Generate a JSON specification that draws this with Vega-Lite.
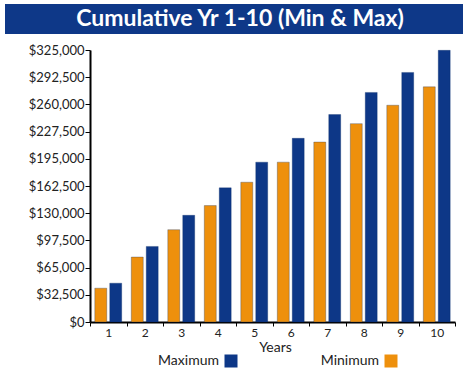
{
  "$schema": "https://vega.github.io/schema/vega-lite/v6.json",
  "background": "white",
  "padding": {"left": 5, "top": 4, "right": 5, "bottom": 5},
  "spacing": 10,
  "config": {
    "view": {"stroke": null},
    "font": "Lato",
    "axis": {"labelFont": "Lato", "titleFont": "Lato", "labelColor": "#222", "titleColor": "#222", "domainColor": "#000", "tickColor": "#000"},
    "legend": {"labelFont": "Lato"}
  },
  "vconcat": [
    {
      "width": 458,
      "height": 30,
      "view": {"fill": "#0E3888", "stroke": null},
      "data": {"values": [{"t": "Cumulative Yr 1-10 (Min & Max)"}]},
      "mark": {"type": "text", "color": "white", "fontSize": 23, "fontWeight": "bold", "font": "Lato", "dx": 6},
      "encoding": {"text": {"field": "t"}}
    },
    {
      "width": 458,
      "height": 272,
      "data": {"values": [
        {"year": 1, "type": "Minimum", "value": 40400}, {"year": 1, "type": "Maximum", "value": 46400},
        {"year": 2, "type": "Minimum", "value": 77600}, {"year": 2, "type": "Maximum", "value": 90300},
        {"year": 3, "type": "Minimum", "value": 110300}, {"year": 3, "type": "Maximum", "value": 127500},
        {"year": 4, "type": "Minimum", "value": 139100}, {"year": 4, "type": "Maximum", "value": 160300},
        {"year": 5, "type": "Minimum", "value": 167000}, {"year": 5, "type": "Maximum", "value": 191000},
        {"year": 6, "type": "Minimum", "value": 191000}, {"year": 6, "type": "Maximum", "value": 219500},
        {"year": 7, "type": "Minimum", "value": 215000}, {"year": 7, "type": "Maximum", "value": 247900},
        {"year": 8, "type": "Minimum", "value": 237000}, {"year": 8, "type": "Maximum", "value": 274300},
        {"year": 9, "type": "Minimum", "value": 259000}, {"year": 9, "type": "Maximum", "value": 298200},
        {"year": 10, "type": "Minimum", "value": 281000}, {"year": 10, "type": "Maximum", "value": 324600}
      ]},
      "mark": {"type": "bar", "stroke": "#0A2A66", "strokeWidth": 0.5, "strokeOpacity": 0.6},
      "encoding": {
        "x": {
          "field": "year", "type": "ordinal",
          "scale": {"paddingInner": 0, "paddingOuter": 0, "range": [85, 450]},
          "axis": {"title": "Years", "labelAngle": 0, "tickBand": "extent", "tickSize": 4, "domainWidth": 2, "labelFontSize": 12, "titleFontSize": 14, "titleFontWeight": "normal", "titlePadding": 2, "labelPadding": 1, "titleX": 270}
        },
        "xOffset": {"field": "type", "sort": ["Minimum", "Maximum"], "scale": {"paddingInner": 0.2, "paddingOuter": 0.32}},
        "y": {
          "field": "value", "type": "quantitative",
          "scale": {"domain": [0, 325000]},
          "axis": {"values": [0, 32500, 65000, 97500, 130000, 162500, 195000, 227500, 260000, 292500, 325000], "format": "$,.0f", "grid": false, "title": null, "offset": -85, "tickSize": 5, "domainWidth": 2, "labelFontSize": 13, "labelPadding": 1}
        },
        "color": {
          "field": "type",
          "scale": {"domain": ["Maximum", "Minimum"], "range": ["#0D3787", "#EE900C"]},
          "legend": {"orient": "none", "legendX": 219, "legendY": 350, "direction": "horizontal", "title": null, "symbolType": "square", "symbolSize": 169, "symbolStrokeWidth": 0, "labelAlign": "right", "labelOffset": -19, "labelFontSize": 14, "labelColor": "#222", "columnPadding": 82}
        }
      }
    }
  ]
}
